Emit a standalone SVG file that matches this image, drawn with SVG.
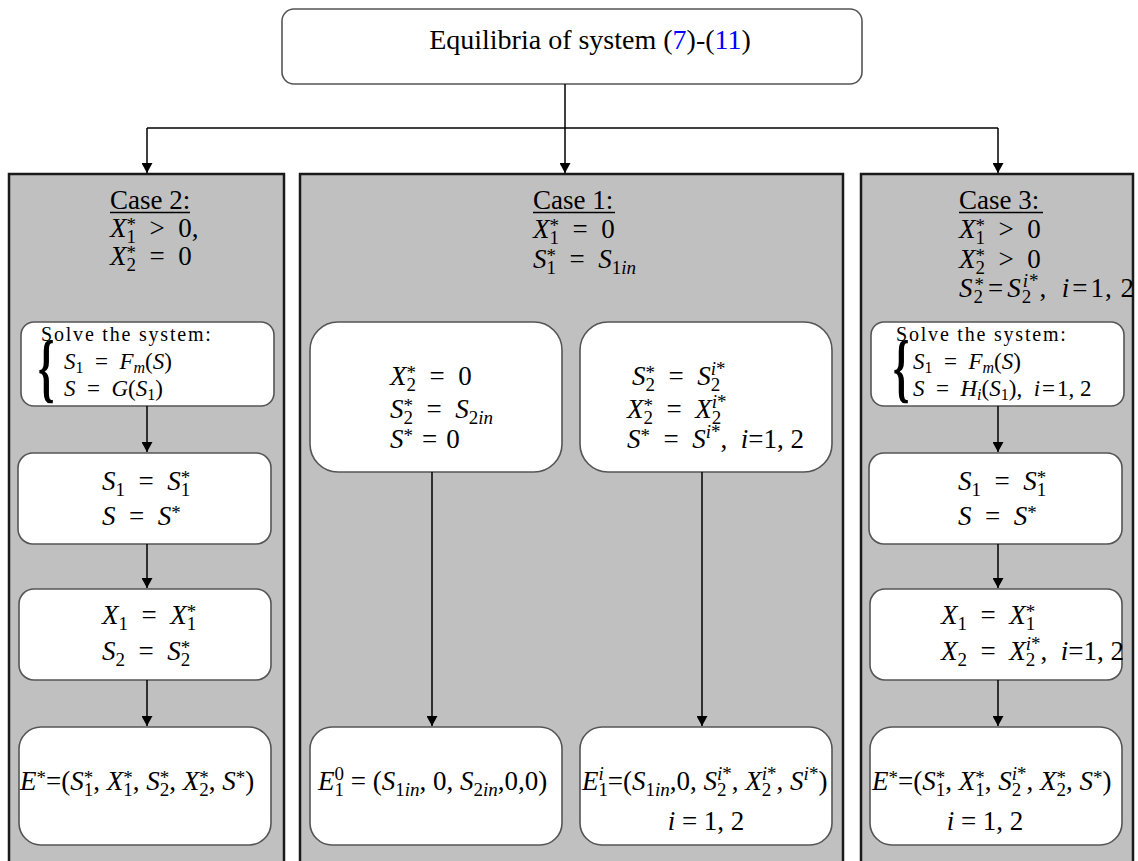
<svg xmlns="http://www.w3.org/2000/svg" width="1138" height="861" viewBox="0 0 1138 861">
<defs>
<style>
.t{font-family:"Liberation Serif","Times New Roman",serif;font-size:27px;fill:#000}
.i{font-style:italic}
.s{font-size:19px}
.sv{font-size:20px;letter-spacing:1.8px}
.sm{font-size:23px}
.ss{font-size:16px}
.br{font-family:"Liberation Serif",serif;font-size:76px;font-weight:bold;fill:#000}
.panel{fill:#c0c0c0;stroke:#1a1a1a;stroke-width:2.5}
.box{fill:#fff;stroke:#555;stroke-width:1.6}
.ul{stroke:#000;stroke-width:1.3}
.conn{fill:none;stroke:#000;stroke-width:1.5}
.blue{fill:#0000ff}
</style>
<marker id="ah" markerWidth="10" markerHeight="11" refX="10" refY="5.5" orient="auto" markerUnits="userSpaceOnUse"><path d="M0,0 L10,5.5 L0,11 z" fill="#000"/></marker>
</defs>
<rect width="1138" height="861" fill="#fff"/>

<g id="title">
<rect class="box" x="282" y="9" width="580" height="75" rx="12"/>
<text class="t" x="590" y="49" text-anchor="middle" style="font-size:28px">Equilibria of system (<tspan class="blue">7</tspan>)-(<tspan class="blue">11</tspan>)</text>
</g>

<g id="case2">
<rect class="panel" x="9" y="174" width="275" height="700"/>
<text class="t" x="110" y="209">Case 2:</text>
<line class="ul" x1="110" y1="212.5" x2="190" y2="212.5"/>
<text class="t" x="110" y="237"><tspan class="i">X</tspan><tspan class="s" y="243">1</tspan><tspan class="s" dx="-9.5" y="231">*</tspan><tspan y="237">&#8194;&gt;&#8194;0,</tspan></text>
<text class="t" x="110" y="265"><tspan class="i">X</tspan><tspan class="s" y="271">2</tspan><tspan class="s" dx="-9.5" y="259">*</tspan><tspan y="265">&#8194;=&#8194;0</tspan></text>
</g>

<g id="case2-solve">
<rect class="box" x="21" y="322" width="253" height="84" rx="13"/>
<text class="t sv" x="41" y="341">Solve the system:</text>
<text class="br" transform="translate(38,393) scale(0.55,1)">{</text>
<text class="t sm" x="64" y="369"><tspan class="i">S</tspan><tspan class="ss" y="373">1</tspan><tspan y="369">&#8194;=&#8194;</tspan><tspan class="i">F</tspan><tspan class="ss i" y="373">m</tspan><tspan y="369">(</tspan><tspan class="i">S</tspan><tspan>)</tspan></text>
<text class="t sm" x="64" y="396"><tspan class="i">S</tspan><tspan>&#8194;=&#8194;</tspan><tspan class="i">G</tspan><tspan>(</tspan><tspan class="i">S</tspan><tspan class="ss" y="400">1</tspan><tspan y="396">)</tspan></text>
</g>

<g id="case2-s1">
<rect class="box" x="18" y="453" width="253" height="91" rx="15"/>
<text class="t" x="102" y="490"><tspan class="i">S</tspan><tspan class="s" y="496">1</tspan><tspan y="490">&#8194;=&#8194;</tspan><tspan class="i">S</tspan><tspan class="s" y="496">1</tspan><tspan class="s" dx="-9.5" y="484">*</tspan></text>
<text class="t" x="102" y="525"><tspan class="i">S</tspan><tspan>&#8194;=&#8194;</tspan><tspan class="i">S</tspan><tspan class="s" y="519">*</tspan></text>
</g>

<g id="case2-x1">
<rect class="box" x="19" y="589" width="252" height="91" rx="15"/>
<text class="t" x="102" y="624"><tspan class="i">X</tspan><tspan class="s" y="630">1</tspan><tspan y="624">&#8194;=&#8194;</tspan><tspan class="i">X</tspan><tspan class="s" y="630">1</tspan><tspan class="s" dx="-9.5" y="618">*</tspan></text>
<text class="t" x="102" y="660"><tspan class="i">S</tspan><tspan class="s" y="666">2</tspan><tspan y="660">&#8194;=&#8194;</tspan><tspan class="i">S</tspan><tspan class="s" y="666">2</tspan><tspan class="s" dx="-9.5" y="654">*</tspan></text>
</g>

<g id="case2-e">
<rect class="box" x="19" y="727" width="252" height="118" rx="22"/>
<text class="t" x="20" y="790"><tspan class="i">E</tspan><tspan class="s" y="784">*</tspan><tspan y="790">=(</tspan><tspan class="i">S</tspan><tspan class="s" y="796">1</tspan><tspan class="s" dx="-9.5" y="784">*</tspan><tspan y="790">, </tspan><tspan class="i">X</tspan><tspan class="s" y="796">1</tspan><tspan class="s" dx="-9.5" y="784">*</tspan><tspan y="790">, </tspan><tspan class="i">S</tspan><tspan class="s" y="796">2</tspan><tspan class="s" dx="-9.5" y="784">*</tspan><tspan y="790">, </tspan><tspan class="i">X</tspan><tspan class="s" y="796">2</tspan><tspan class="s" dx="-9.5" y="784">*</tspan><tspan y="790">, </tspan><tspan class="i">S</tspan><tspan class="s" y="784">*</tspan><tspan y="790">)</tspan></text>
</g>

<g id="case1">
<rect class="panel" x="300" y="174" width="543" height="700"/>
<text class="t" x="533" y="209">Case 1:</text>
<line class="ul" x1="533" y1="212.5" x2="615" y2="212.5"/>
<text class="t" x="533" y="238"><tspan class="i">X</tspan><tspan class="s" y="244">1</tspan><tspan class="s" dx="-9.5" y="232">*</tspan><tspan y="238">&#8194;=&#8194;0</tspan></text>
<text class="t" x="533" y="268"><tspan class="i">S</tspan><tspan class="s" y="274">1</tspan><tspan class="s" dx="-9.5" y="262">*</tspan><tspan y="268">&#8194;=&#8194;</tspan><tspan class="i">S</tspan><tspan class="s" y="274">1</tspan><tspan class="s i">in</tspan></text>
</g>

<g id="case1-left">
<rect class="box" x="310" y="322" width="252" height="150" rx="28"/>
<text class="t" x="390" y="385"><tspan class="i">X</tspan><tspan class="s" y="391">2</tspan><tspan class="s" dx="-9.5" y="379">*</tspan><tspan y="385">&#8194;=&#8194;0</tspan></text>
<text class="t" x="390" y="418"><tspan class="i">S</tspan><tspan class="s" y="424">2</tspan><tspan class="s" dx="-9.5" y="412">*</tspan><tspan y="418">&#8194;=&#8194;</tspan><tspan class="i">S</tspan><tspan class="s" y="424">2</tspan><tspan class="s i">in</tspan></text>
<text class="t" x="390" y="448"><tspan class="i">S</tspan><tspan class="s" y="442">*</tspan><tspan y="448">&#8196;=&#8196;0</tspan></text>
</g>

<g id="case1-right">
<rect class="box" x="580" y="322" width="252" height="150" rx="28"/>
<text class="t" x="632" y="385"><tspan class="i">S</tspan><tspan class="s" y="391">2</tspan><tspan class="s" dx="-9.5" y="379">*</tspan><tspan y="385">&#8194;=&#8194;</tspan><tspan class="i">S</tspan><tspan class="s" y="391">2</tspan><tspan class="s i" dx="-9.5" y="375">i</tspan><tspan class="s" y="375">*</tspan></text>
<text class="t" x="627" y="418"><tspan class="i">X</tspan><tspan class="s" y="424">2</tspan><tspan class="s" dx="-9.5" y="412">*</tspan><tspan y="418">&#8194;=&#8194;</tspan><tspan class="i">X</tspan><tspan class="s" y="424">2</tspan><tspan class="s i" dx="-9.5" y="408">i</tspan><tspan class="s" y="408">*</tspan></text>
<text class="t" x="627" y="448"><tspan class="i">S</tspan><tspan class="s" y="442">*</tspan><tspan y="448">&#8194;=&#8194;</tspan><tspan class="i">S</tspan><tspan class="s i" y="438">i</tspan><tspan class="s" y="438">*</tspan><tspan y="448">,&#8194;</tspan><tspan class="i">i</tspan><tspan>=1, 2</tspan></text>
</g>

<g id="case1-e0">
<rect class="box" x="310" y="727" width="252" height="118" rx="22"/>
<text class="t" x="318" y="790"><tspan class="i">E</tspan><tspan class="s" y="796">1</tspan><tspan class="s" dx="-9.5" y="780">0</tspan><tspan y="790"> = (</tspan><tspan class="i">S</tspan><tspan class="s" y="796">1</tspan><tspan class="s i">in</tspan><tspan y="790">, 0, </tspan><tspan class="i">S</tspan><tspan class="s" y="796">2</tspan><tspan class="s i">in</tspan><tspan y="790">,0,0)</tspan></text>
</g>

<g id="case1-ei">
<rect class="box" x="580" y="727" width="252" height="118" rx="22"/>
<text class="t" x="582" y="790"><tspan class="i">E</tspan><tspan class="s" y="796">1</tspan><tspan class="s i" dx="-9.5" y="780">i</tspan><tspan y="790" dx="4">=(</tspan><tspan class="i">S</tspan><tspan class="s" y="796">1</tspan><tspan class="s i">in</tspan><tspan y="790">,0, </tspan><tspan class="i">S</tspan><tspan class="s" y="796">2</tspan><tspan class="s i" dx="-9.5" y="780">i</tspan><tspan class="s" y="780">*</tspan><tspan y="790">, </tspan><tspan class="i">X</tspan><tspan class="s" y="796">2</tspan><tspan class="s i" dx="-9.5" y="780">i</tspan><tspan class="s" y="780">*</tspan><tspan y="790">, </tspan><tspan class="i">S</tspan><tspan class="s i" y="780">i</tspan><tspan class="s" y="780">*</tspan><tspan y="790">)</tspan></text>
<text class="t" x="706" y="830" text-anchor="middle"><tspan class="i">i</tspan> = 1, 2</text>
</g>

<g id="case3">
<rect class="panel" x="861" y="174" width="272" height="700"/>
<text class="t" x="959" y="209">Case 3:</text>
<line class="ul" x1="959" y1="212.5" x2="1043" y2="212.5"/>
<text class="t" x="959" y="238"><tspan class="i">X</tspan><tspan class="s" y="244">1</tspan><tspan class="s" dx="-9.5" y="232">*</tspan><tspan y="238">&#8194;&gt;&#8194;0</tspan></text>
<text class="t" x="959" y="268"><tspan class="i">X</tspan><tspan class="s" y="274">2</tspan><tspan class="s" dx="-9.5" y="262">*</tspan><tspan y="268">&#8194;&gt;&#8194;0</tspan></text>
<text class="t" x="959" y="297" style="letter-spacing:1px"><tspan class="i">S</tspan><tspan class="s" y="303">2</tspan><tspan class="s" dx="-9.5" y="291">*</tspan><tspan y="297" dx="3">=</tspan><tspan class="i" dx="3">S</tspan><tspan class="s" y="303">2</tspan><tspan class="s i" dx="-9.5" y="287">i</tspan><tspan class="s" y="287">*</tspan><tspan y="297">,&#8194;</tspan><tspan class="i">i</tspan><tspan dx="2">=</tspan><tspan dx="2">1, 2</tspan></text>
</g>

<g id="case3-solve">
<rect class="box" x="871" y="322" width="253" height="84" rx="13"/>
<text class="t sv" x="896" y="341">Solve the system:</text>
<text class="br" transform="translate(893,393) scale(0.55,1)">{</text>
<text class="t sm" x="913" y="369"><tspan class="i">S</tspan><tspan class="ss" y="373">1</tspan><tspan y="369">&#8194;=&#8194;</tspan><tspan class="i">F</tspan><tspan class="ss i" y="373">m</tspan><tspan y="369">(</tspan><tspan class="i">S</tspan><tspan>)</tspan></text>
<text class="t sm" x="913" y="396"><tspan class="i">S</tspan><tspan>&#8194;=&#8194;</tspan><tspan class="i">H</tspan><tspan class="ss i" y="400">i</tspan><tspan y="396">(</tspan><tspan class="i">S</tspan><tspan class="ss" y="400">1</tspan><tspan y="396">),&#8194;</tspan><tspan class="i">i</tspan><tspan dx="2">=</tspan><tspan dx="2">1, 2</tspan></text>
</g>

<g id="case3-s1">
<rect class="box" x="869" y="453" width="253" height="91" rx="15"/>
<text class="t" x="958" y="490"><tspan class="i">S</tspan><tspan class="s" y="496">1</tspan><tspan y="490">&#8194;=&#8194;</tspan><tspan class="i">S</tspan><tspan class="s" y="496">1</tspan><tspan class="s" dx="-9.5" y="484">*</tspan></text>
<text class="t" x="958" y="525"><tspan class="i">S</tspan><tspan>&#8194;=&#8194;</tspan><tspan class="i">S</tspan><tspan class="s" y="519">*</tspan></text>
</g>

<g id="case3-x1">
<rect class="box" x="870" y="589" width="252" height="91" rx="15"/>
<text class="t" x="941" y="624"><tspan class="i">X</tspan><tspan class="s" y="630">1</tspan><tspan y="624">&#8194;=&#8194;</tspan><tspan class="i">X</tspan><tspan class="s" y="630">1</tspan><tspan class="s" dx="-9.5" y="618">*</tspan></text>
<text class="t" x="941" y="660"><tspan class="i">X</tspan><tspan class="s" y="666">2</tspan><tspan y="660">&#8194;=&#8194;</tspan><tspan class="i">X</tspan><tspan class="s" y="666">2</tspan><tspan class="s i" dx="-9.5" y="650">i</tspan><tspan class="s" y="650">*</tspan><tspan y="660">,&#8194;</tspan><tspan class="i">i</tspan><tspan>=1, 2</tspan></text>
</g>

<g id="case3-e">
<rect class="box" x="870" y="727" width="252" height="118" rx="22"/>
<text class="t" x="872" y="790"><tspan class="i">E</tspan><tspan class="s" y="784">*</tspan><tspan y="790">=(</tspan><tspan class="i">S</tspan><tspan class="s" y="796">1</tspan><tspan class="s" dx="-9.5" y="784">*</tspan><tspan y="790">, </tspan><tspan class="i">X</tspan><tspan class="s" y="796">1</tspan><tspan class="s" dx="-9.5" y="784">*</tspan><tspan y="790">, </tspan><tspan class="i">S</tspan><tspan class="s" y="796">2</tspan><tspan class="s i" dx="-9.5" y="780">i</tspan><tspan class="s" y="780">*</tspan><tspan y="790">, </tspan><tspan class="i">X</tspan><tspan class="s" y="796">2</tspan><tspan class="s" dx="-9.5" y="784">*</tspan><tspan y="790">, </tspan><tspan class="i">S</tspan><tspan class="s" y="784">*</tspan><tspan y="790">)</tspan></text>
<text class="t" x="985" y="830" text-anchor="middle"><tspan class="i">i</tspan> = 1, 2</text>
</g>

<g id="connectors">
<path class="conn" d="M565,84 V173" marker-end="url(#ah)"/>
<path class="conn" d="M147,128 H998"/>
<path class="conn" d="M147,128 V173" marker-end="url(#ah)"/>
<path class="conn" d="M998,128 V173" marker-end="url(#ah)"/>
<path class="conn" d="M147,406 V452" marker-end="url(#ah)"/>
<path class="conn" d="M147,544 V588" marker-end="url(#ah)"/>
<path class="conn" d="M147,680 V726" marker-end="url(#ah)"/>
<path class="conn" d="M432,472 V726" marker-end="url(#ah)"/>
<path class="conn" d="M702,472 V726" marker-end="url(#ah)"/>
<path class="conn" d="M998,406 V452" marker-end="url(#ah)"/>
<path class="conn" d="M998,544 V588" marker-end="url(#ah)"/>
<path class="conn" d="M998,680 V726" marker-end="url(#ah)"/>
</g>
</svg>
